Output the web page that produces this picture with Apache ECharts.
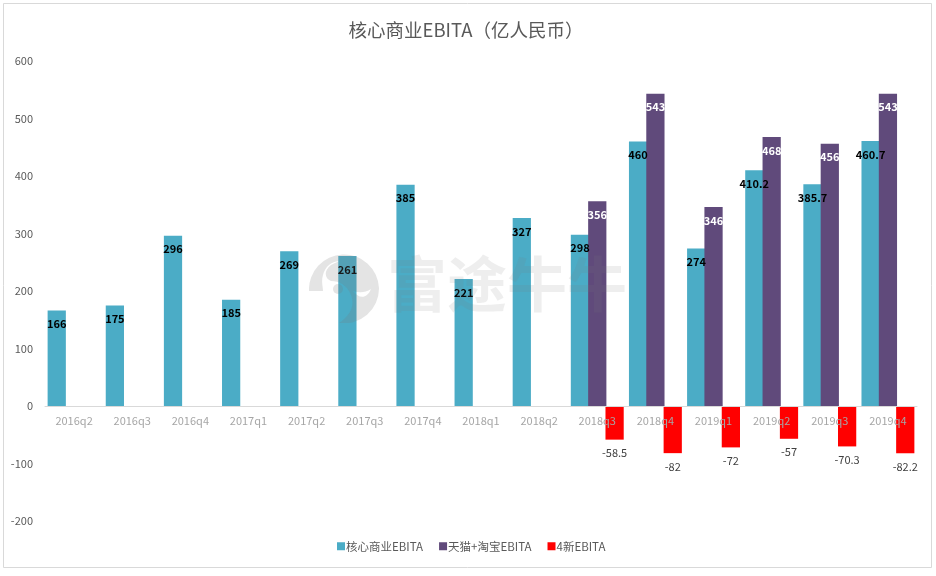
<!DOCTYPE html>
<html><head><meta charset="utf-8">
<style>html,body{margin:0;padding:0;background:#fff}#c{width:936px;height:576px}</style>
<script src="https://cdn.jsdelivr.net/npm/echarts@6/dist/echarts.min.js"></script>
</head><body><div id="c"></div>
<script>
const categories = ['2016q2','2016q3','2016q4','2017q1','2017q2','2017q3','2017q4','2018q1','2018q2','2018q3','2018q4','2019q1','2019q2','2019q3','2019q4'];
const coreEbita = [166,175,296,185,269,261,385,221,327,298,460,274,410.2,385.7,460.7];
const tmallEbita = [null,null,null,null,null,null,null,null,null,356,543,346,468,456,543];
const newEbita = [null,null,null,null,null,null,null,null,null,-58.5,-82,-72,-57,-70.3,-82.2];
const FONT = '"Noto Sans CJK SC","Noto Sans",sans-serif';
const chart = echarts.init(document.getElementById('c'));
const wm = 'rgba(120,120,120,0.13)';
const logoSvg = "<svg xmlns='http://www.w3.org/2000/svg' width='70' height='70' viewBox='0 0 70 70'><path fill='rgb(120,120,120)' fill-opacity='0.2' fill-rule='evenodd' d='M0 38A35 35 0 0 1 70 35A35 35 0 0 1 30 70C42 62 46 52 42 42C38 32 30 28 22 28C16 26 14 18 22 12C26 10 30 8 32 8C22 8 16 14 14 22C12 28 14 34 14 38ZM62 36C58 46 50 46 44 38C50 40 56 40 62 36Z'/><circle cx='29' cy='36' r='5' fill='rgb(120,120,120)' fill-opacity='0.2'/></svg>";
chart.setOption({
  animation:false,
  backgroundColor:'#fff',
  textStyle:{fontFamily:FONT},
  title:{text:'核心商业EBITA（亿人民币）',left:461,top:16,textAlign:'center',
    textStyle:{fontSize:18.5,fontWeight:'normal',color:'#595959',fontFamily:FONT}},
  legend:{bottom:19,left:332,icon:'rect',itemWidth:8,itemHeight:8,itemGap:16,
    textStyle:{fontSize:11.5,color:'#595959',fontFamily:FONT,padding:[0,0,0,-4]}},
  grid:{left:45,right:19,top:61,bottom:55},
  xAxis:{type:'category',data:categories,z:3,
    axisLine:{onZero:true,lineStyle:{color:'#d9d9d9',width:1}},axisTick:{show:false},
    axisLabel:{color:'#a6a6a6',fontSize:11,margin:-106,fontFamily:FONT,interval:0}},
  yAxis:{type:'value',min:-200,max:600,interval:100,splitLine:{show:false},
    axisLine:{show:false},axisTick:{show:false},
    axisLabel:{color:'#595959',fontSize:11,margin:12,fontFamily:FONT}},
  series:[
    {name:'核心商业EBITA',type:'bar',data:coreEbita,barGap:'-5%',barCategoryGap:'9%',
      itemStyle:{color:'#4BACC6'},
      label:{show:true,position:'insideTop',distance:8,color:'#000',fontSize:11,fontWeight:'bold',fontFamily:FONT}},
    {name:'天猫+淘宝EBITA',type:'bar',data:tmallEbita,
      itemStyle:{color:'#604A7B'},
      label:{show:true,position:'insideTop',distance:8,color:'#fff',fontSize:11,fontWeight:'bold',fontFamily:FONT}},
    {name:'4新EBITA',type:'bar',data:newEbita,
      itemStyle:{color:'#FF0000'},
      label:{show:true,position:'bottom',distance:8,color:'#404040',fontSize:11,fontFamily:FONT}}
  ],
  graphic:[
    {type:'rect',z:-1,silent:true,shape:{x:3.5,y:3.5,width:928,height:564},style:{fill:'#fff',stroke:'#d9d9d9',lineWidth:1}},
    {type:'text',z:50,silent:true,left:387,top:254,style:{text:'富途牛牛',fill:wm,font:'bold 60px "Noto Sans CJK SC"'}},
    {type:'image',z:50,silent:true,left:309,top:253,style:{image:'data:image/svg+xml;charset=utf-8,'+encodeURIComponent(logoSvg),width:70,height:70}}
  ]
});
</script></body></html>
